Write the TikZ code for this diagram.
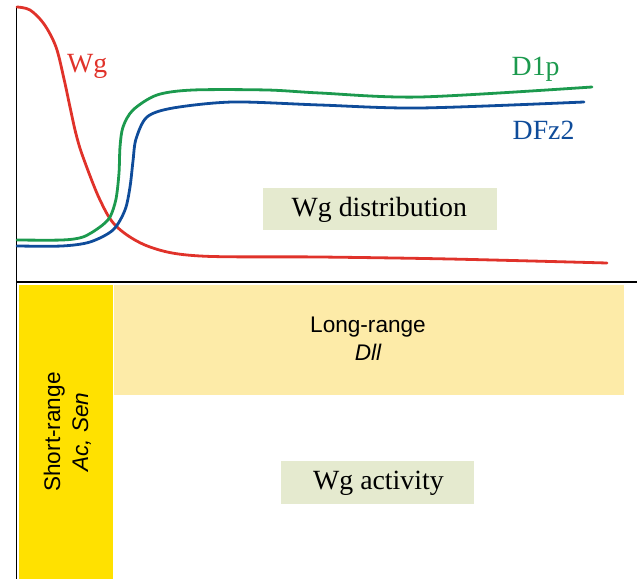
\documentclass[tikz,border=0pt]{standalone}
\usepackage{fontspec}
\setmainfont{Liberation Serif}
\setsansfont{Liberation Sans}
\definecolor{wgred}{HTML}{E0322A}
\definecolor{dgreen}{HTML}{1C9A4E}
\definecolor{dblue}{HTML}{0F4C9A}
\definecolor{shortyel}{HTML}{FFE100}
\definecolor{longyel}{HTML}{FDEBA8}
\definecolor{labbox}{HTML}{E5EACF}
\begin{document}
\begin{tikzpicture}[x=1pt,y=1pt,
  curve/.style={line width=2.8pt, line cap=round, line join=round},
  serlab/.style={font=\fontsize{27.8}{30}\selectfont, inner sep=0pt},
  sanslab/.style={font=\sffamily\fontsize{22.6}{28}\selectfont, inner sep=0pt},
  axisline/.style={line width=1.6pt, black}]
\useasboundingbox (0,0) rectangle (637,579);
% boxes
\fill[shortyel] (19,0) rectangle (113,294);
\fill[longyel] (114,184) rectangle (624,294);
\fill[labbox] (263,349) rectangle (497,391);
\fill[labbox] (281,75) rectangle (474,118);
% axes
\draw[axisline] (16.5,573) -- (16.5,0);
\draw[axisline] (16.5,297) -- (637,297);
% curves
\draw[curve, wgred] plot[smooth, tension=0.55] coordinates {
 (17,572) (30,569) (44,555) (56,532) (64,500) (70,472) (76,445) (83,422)
 (100,379) (117,352) (150,332) (200,323) (320,322) (450,320) (607,316)};
\draw[curve, dgreen] plot[smooth, tension=0.5] coordinates {
 (17,339) (62,339) (83,342) (100,352) (110,362) (116,380) (119,406) (120,432)
 (123,452) (133,469) (157,484) (193,489) (267,489) (320,486) (420,482) (592,492)};
\draw[curve, dblue] plot[smooth, tension=0.5] coordinates {
 (17,333) (62,333) (90,337) (113,349) (125,369) (130,392) (133,418) (136,440)
 (147,462) (173,471) (233,477) (320,474) (420,471) (584,477)};
% labels
\node[serlab, text=wgred, anchor=base west] (wg) at (67,506) {Wg};
\node[serlab, text=dgreen, anchor=base west] (d1p) at (511.5,503.5) {D1p};
\node[serlab, text=dblue, anchor=base west] (dfz) at (512.5,439) {DFz2};
\node[serlab, anchor=base west] (wgdist) at (291.5,362.5) {Wg distribution};
\node[serlab, anchor=base west] (wgact) at (313,89.7) {Wg activity};
\node[sanslab, anchor=base] (long1) at (368,246.7) {Long-range};
\node[sanslab, anchor=base] (long2) at (368,219) {\itshape Dll};
\node[sanslab, anchor=base, rotate=90] (short1) at (60,147) {Short-range};
\node[sanslab, anchor=base, rotate=90] (short2) at (88,147) {\itshape Ac, Sen};
\end{tikzpicture}
\end{document}
